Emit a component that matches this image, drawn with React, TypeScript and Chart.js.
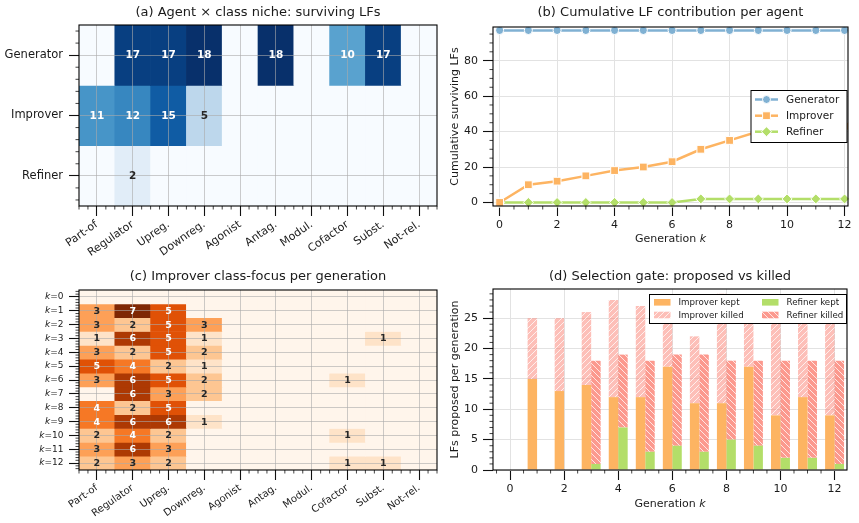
import React, { useEffect, useRef } from 'react';
import { Chart, registerables } from 'chart.js';

Chart.register(...registerables);

const FONT = 'DejaVu Sans';
const INK = '#1a1a1a';

// ---------- data ----------
const classLabels = ['Part-of', 'Regulator', 'Upreg.', 'Downreg.', 'Agonist', 'Antag.', 'Modul.', 'Cofactor', 'Subst.', 'Not-rel.'];
const agentLabels = ['Generator', 'Improver', 'Refiner'];

const nicheGenerator = [0, 17, 17, 18, 0, 18, 0, 10, 17, 0];
const nicheImprover = [11, 12, 15, 5, 0, 0, 0, 0, 0, 0];
const nicheRefiner = [0, 2, 0, 0, 0, 0, 0, 0, 0, 0];
const nicheMax = 18;

const generations = [0, 1, 2, 3, 4, 5, 6, 7, 8, 9, 10, 11, 12];
const cumGenerator = [97, 97, 97, 97, 97, 97, 97, 97, 97, 97, 97, 97, 97];
const cumImprover = [0, 10, 12, 15, 18, 20, 23, 30, 35, 40, 41, 42, 43];
const cumRefiner = [0, 0, 0, 0, 0, 0, 0, 2, 2, 2, 2, 2, 2];

const focusK0 = [0, 0, 0, 0, 0, 0, 0, 0, 0, 0];
const focusK1 = [3, 7, 5, 0, 0, 0, 0, 0, 0, 0];
const focusK2 = [3, 2, 5, 3, 0, 0, 0, 0, 0, 0];
const focusK3 = [1, 6, 5, 1, 0, 0, 0, 0, 1, 0];
const focusK4 = [3, 2, 5, 2, 0, 0, 0, 0, 0, 0];
const focusK5 = [5, 4, 2, 1, 0, 0, 0, 0, 0, 0];
const focusK6 = [3, 6, 5, 2, 0, 0, 0, 1, 0, 0];
const focusK7 = [0, 6, 3, 2, 0, 0, 0, 0, 0, 0];
const focusK8 = [4, 2, 5, 0, 0, 0, 0, 0, 0, 0];
const focusK9 = [4, 6, 6, 1, 0, 0, 0, 0, 0, 0];
const focusK10 = [2, 4, 2, 0, 0, 0, 0, 1, 0, 0];
const focusK11 = [3, 6, 3, 0, 0, 0, 0, 0, 0, 0];
const focusK12 = [2, 3, 2, 0, 0, 0, 0, 1, 1, 0];
const focusMax = 7;

const improverKept = [0, 15, 13, 14, 12, 12, 17, 11, 11, 17, 9, 12, 9];
const improverProposed = [0, 25, 25, 26, 28, 27, 27, 22, 29, 25, 26, 25, 25];
const refinerKept = [0, 0, 0, 1, 7, 3, 4, 3, 5, 4, 2, 2, 1];
const refinerProposed = [0, 0, 0, 18, 19, 18, 19, 19, 18, 18, 18, 18, 18];

const genTicks = [0, 2, 4, 6, 8, 10, 12];
const cumTicks = [0, 20, 40, 60, 80];
const gateTicks = [0, 5, 10, 15, 20, 25];

// ---------- styling helpers ----------
const BLUES = ['#f7fbff', '#deebf7', '#c6dbef', '#9ecae1', '#6baed6', '#4292c6', '#2171b5', '#08519c', '#08306b'];
const ORANGES = ['#fff5eb', '#fee6ce', '#fdd0a2', '#fdae6b', '#fd8d3c', '#f16913', '#d94801', '#a63603', '#7f2704'];
const C_GEN = '#80b1d3';
const C_IMP = '#fdb462';
const C_REF = '#b3de69';

function hexRgb(h: string): number[] {
  const n = parseInt(h.slice(1), 16);
  return [(n >> 16) & 255, (n >> 8) & 255, n & 255];
}
function cmap(stops: string[], t: number): string {
  const tt = Math.max(0, Math.min(1, t)) * (stops.length - 1);
  const i = Math.min(Math.floor(tt), stops.length - 2);
  const f = tt - i;
  const a = hexRgb(stops[i]);
  const b = hexRgb(stops[i + 1]);
  const c = a.map((v, k) => Math.round(v + (b[k] - v) * f));
  return `rgb(${c[0]},${c[1]},${c[2]})`;
}
function hatch(fill: string, dir: number, size = 6): CanvasPattern {
  const c = document.createElement('canvas');
  c.width = size;
  c.height = size;
  const g = c.getContext('2d')!;
  g.fillStyle = fill;
  g.fillRect(0, 0, size, size);
  g.strokeStyle = 'rgba(255,255,255,0.85)';
  g.lineWidth = 0.9;
  g.beginPath();
  if (dir > 0) {
    g.moveTo(0, size); g.lineTo(size, 0);
    g.moveTo(-size / 2, size / 2); g.lineTo(size / 2, -size / 2);
    g.moveTo(size / 2, size * 1.5); g.lineTo(size * 1.5, size / 2);
  } else {
    g.moveTo(0, 0); g.lineTo(size, size);
    g.moveTo(-size / 2, size / 2); g.lineTo(size / 2, size * 1.5);
    g.moveTo(size / 2, -size / 2); g.lineTo(size * 1.5, size / 2);
  }
  g.stroke();
  return g.createPattern(c, 'repeat')!;
}
function range(from: number, to: number, step: number, skip: (v: number) => boolean): number[] {
  const out: number[] = [];
  for (let v = from; v <= to + 1e-9; v += step) {
    const r = Math.round(v * 1000) / 1000;
    if (!skip(r)) out.push(r);
  }
  return out;
}
const isInt = (v: number) => Math.abs(v - Math.round(v)) < 1e-6;

type Run = { t: string; i?: boolean };
function drawRuns(ctx: CanvasRenderingContext2D, runs: Run[], x: number, y: number, size: number, align: string) {
  const fonts = runs.map(r => `${r.i ? 'italic ' : ''}${size}px "${FONT}"`);
  const widths = runs.map((r, k) => { ctx.font = fonts[k]; return ctx.measureText(r.t).width; });
  const total = widths.reduce((s, w) => s + w, 0);
  let cx = align === 'center' ? x - total / 2 : align === 'right' ? x - total : x;
  ctx.textAlign = 'left';
  ctx.textBaseline = 'middle';
  runs.forEach((r, k) => { ctx.font = fonts[k]; ctx.fillText(r.t, cx, y); cx += widths[k]; });
}

interface DecorOpts {
  title: string; titleY: number;
  minorX?: number[]; minorY?: number[];
  xTitle?: Run[]; xTitleY?: number;
  yTitle?: string; yTitleX?: number;
  draw?: (chart: any) => void;
}
function decor(o: DecorOpts) {
  return {
    id: 'decor',
    afterDraw(chart: any) {
      const ctx: CanvasRenderingContext2D = chart.ctx;
      const a = chart.chartArea;
      const xs = chart.scales.x;
      const ys = chart.scales.y;
      ctx.save();
      if (o.draw) o.draw(chart);
      ctx.strokeStyle = '#111';
      ctx.lineWidth = 0.8;
      ctx.beginPath();
      (o.minorX || []).forEach(v => { const x = xs.getPixelForValue(v); ctx.moveTo(x, a.bottom); ctx.lineTo(x, a.bottom + 3.5); });
      (o.minorY || []).forEach(v => { const y = ys.getPixelForValue(v); ctx.moveTo(a.left, y); ctx.lineTo(a.left - 3.5, y); });
      ctx.stroke();
      ctx.strokeStyle = '#000';
      ctx.lineWidth = 1.1;
      ctx.strokeRect(a.left, a.top, a.right - a.left, a.bottom - a.top);
      ctx.fillStyle = INK;
      ctx.font = `13px "${FONT}"`;
      ctx.textAlign = 'center';
      ctx.textBaseline = 'middle';
      ctx.fillText(o.title, (a.left + a.right) / 2, o.titleY);
      if (o.xTitle) drawRuns(ctx, o.xTitle, (a.left + a.right) / 2, o.xTitleY!, 11, 'center');
      if (o.yTitle) {
        ctx.save();
        ctx.translate(o.yTitleX!, (a.top + a.bottom) / 2);
        ctx.rotate(-Math.PI / 2);
        ctx.font = `11px "${FONT}"`;
        ctx.textAlign = 'center';
        ctx.textBaseline = 'middle';
        ctx.fillText(o.yTitle, 0, 0);
        ctx.restore();
      }
      ctx.restore();
    },
  };
}

const heatGrid = { offset: false, z: 1, color: 'rgba(170,170,170,0.6)', lineWidth: 1, drawTicks: true, tickLength: 10, tickColor: '#111', tickWidth: 1.1 };
const plainGrid = { color: '#e2e2e2', lineWidth: 1, drawTicks: true, tickLength: 10, tickColor: '#111', tickWidth: 1.1 };

interface HeatP { top: number; right: number; xh: number; xFont: number; yFont: number; yLabels: string[] | null; cellFont: number }
function heatConfig(rows: number[][], vmax: number, stops: string[], p: HeatP, d: DecorOpts): any {
  const cellDraw = (chart: any) => {
    const ctx: CanvasRenderingContext2D = chart.ctx;
    const xs = chart.scales.x;
    const ys = chart.scales.y;
    ctx.font = `bold ${p.cellFont}px "${FONT}"`;
    ctx.textAlign = 'center';
    ctx.textBaseline = 'middle';
    rows.forEach((row, r) => row.forEach((v, c) => {
      if (!v) return;
      ctx.fillStyle = v > vmax / 2 ? '#ffffff' : '#262626';
      ctx.fillText(String(v), xs.getPixelForValue(c), ys.getPixelForValue(r) + 0.5);
    }));
    if (d.draw) d.draw(chart);
  };
  return {
    type: 'bar',
    data: {
      labels: classLabels,
      datasets: rows.map((row, r) => ({
        data: row.map(() => [r - 0.5, r + 0.5]),
        backgroundColor: row.map(v => cmap(stops, v / vmax)),
        borderWidth: 0,
        grouped: false,
        barPercentage: 1,
        categoryPercentage: 1,
      })),
    },
    options: {
      responsive: false,
      animation: false,
      events: [],
      layout: { padding: { top: p.top, right: p.right, left: 0, bottom: 0 } },
      plugins: { legend: { display: false }, tooltip: { enabled: false } },
      scales: {
        x: {
          type: 'category', offset: true, border: { display: false }, grid: heatGrid,
          ticks: { autoSkip: false, minRotation: 35, maxRotation: 35, padding: 2, font: { size: p.xFont }, color: INK },
          afterFit: (s: any) => { s.height = p.xh; },
        },
        y: {
          type: 'linear', reverse: true, min: -0.5, max: rows.length - 0.5, border: { display: false }, grid: heatGrid,
          afterBuildTicks: (s: any) => { s.ticks = rows.map((_, i) => ({ value: i })); },
          ticks: { padding: 6, font: { size: p.yFont }, color: INK, callback: (v: any) => (p.yLabels ? p.yLabels[v] ?? '' : '') },
          afterFit: (s: any) => { s.width = 79; },
        },
      },
    },
    plugins: [decor({ ...d, draw: cellDraw })],
  };
}

function drawMarker(ctx: CanvasRenderingContext2D, style: string, x: number, y: number, color: string) {
  ctx.beginPath();
  if (style === 'circle') ctx.arc(x, y, 4, 0, Math.PI * 2);
  else if (style === 'rect') ctx.rect(x - 3.9, y - 3.9, 7.8, 7.8);
  else { ctx.moveTo(x, y - 5); ctx.lineTo(x + 5, y); ctx.lineTo(x, y + 5); ctx.lineTo(x - 5, y); ctx.closePath(); }
  ctx.fillStyle = color;
  ctx.fill();
  ctx.strokeStyle = '#fff';
  ctx.lineWidth = 1;
  ctx.stroke();
}

export default function App() {
  const refA = useRef<HTMLCanvasElement>(null);
  const refB = useRef<HTMLCanvasElement>(null);
  const refC = useRef<HTMLCanvasElement>(null);
  const refD = useRef<HTMLCanvasElement>(null);

  useEffect(() => {
    Chart.defaults.font.family = FONT;
    Chart.defaults.color = INK;

    const nicheRows = [nicheGenerator, nicheImprover, nicheRefiner];
    const focusRows = [focusK0, focusK1, focusK2, focusK3, focusK4, focusK5, focusK6, focusK7, focusK8, focusK9, focusK10, focusK11, focusK12];

    const chartA = new Chart(refA.current!, heatConfig(nicheRows, nicheMax, BLUES,
      { top: 25, right: 3, xh: 54, xFont: 11, yFont: 11.5, yLabels: agentLabels, cellFont: 10.5 },
      {
        title: '(a) Agent \u00d7 class niche: surviving LFs', titleY: 12.7,
        minorX: range(-0.5, 9.5, 0.25, isInt), minorY: range(-0.4, 2.4, 0.2, isInt),
      }));

    const chartC = new Chart(refC.current!, heatConfig(focusRows, focusMax, ORANGES,
      { top: 30, right: 3, xh: 53, xFont: 10, yFont: 9, yLabels: null, cellFont: 9.5 },
      {
        title: '(c) Improver class-focus per generation', titleY: 16.7,
        minorX: range(-0.5, 9.5, 0.25, isInt), minorY: range(-0.4, 12.4, 0.2, isInt),
        draw: (chart: any) => {
          const ctx: CanvasRenderingContext2D = chart.ctx;
          const ys = chart.scales.y;
          ctx.fillStyle = INK;
          focusRows.forEach((_, r) => {
            drawRuns(ctx, [{ t: 'k', i: true }, { t: '=' + generations[r] }], 63.5, ys.getPixelForValue(r), 9, 'right');
          });
        },
      }));

    const lineSeries = [
      { label: 'Generator', vals: cumGenerator, color: C_GEN, style: 'circle', r: 4 },
      { label: 'Improver', vals: cumImprover, color: C_IMP, style: 'rect', r: 5.5 },
      { label: 'Refiner', vals: cumRefiner, color: C_REF, style: 'rectRot', r: 5 },
    ];
    const chartB = new Chart(refB.current!, {
      type: 'line',
      data: {
        datasets: lineSeries.map(s => ({
          label: s.label,
          data: generations.map((g, i) => ({ x: g, y: s.vals[i] })),
          borderColor: s.color,
          backgroundColor: s.color,
          borderWidth: 2.5,
          pointStyle: s.style,
          pointRadius: s.r,
          pointBackgroundColor: s.color,
          pointBorderColor: '#ffffff',
          pointBorderWidth: 1,
          tension: 0,
          clip: false,
        })),
      },
      options: {
        responsive: false,
        animation: false,
        events: [],
        layout: { padding: { top: 27, right: 11, left: 0, bottom: 0 } },
        plugins: { legend: { display: false }, tooltip: { enabled: false } },
        scales: {
          x: {
            type: 'linear', min: -0.23, max: 12.12, border: { display: false }, grid: plainGrid,
            afterBuildTicks: (s: any) => { s.ticks = genTicks.map(v => ({ value: v })); },
            ticks: { padding: 3, font: { size: 11 }, color: INK, maxRotation: 0 },
            afterFit: (s: any) => { s.height = 54; },
          },
          y: {
            type: 'linear', min: -2, max: 99, border: { display: false }, grid: plainGrid,
            afterBuildTicks: (s: any) => { s.ticks = cumTicks.map(v => ({ value: v })); },
            ticks: { padding: 5, font: { size: 11 }, color: INK },
            afterFit: (s: any) => { s.width = 53; },
          },
        },
      } as any,
      plugins: [decor({
        title: '(b) Cumulative LF contribution per agent', titleY: 12.7,
        minorX: range(0, 12, 0.5, v => Math.abs(v / 2 - Math.round(v / 2)) < 1e-6),
        minorY: range(0, 95, 5, v => v % 20 === 0),
        xTitle: [{ t: 'Generation ' }, { t: 'k', i: true }], xTitleY: 239.5,
        yTitle: 'Cumulative surviving LFs', yTitleX: 15,
        draw: (chart: any) => {
          const ctx: CanvasRenderingContext2D = chart.ctx;
          ctx.fillStyle = '#ffffff';
          ctx.fillRect(311, 90.5, 96, 52);
          ctx.strokeStyle = '#000';
          ctx.lineWidth = 1;
          ctx.strokeRect(311, 90.5, 96, 52);
          const rowsY = [99.5, 115.7, 131.7];
          lineSeries.forEach((s, k) => {
            const y = rowsY[k];
            ctx.strokeStyle = s.color;
            ctx.lineWidth = 2.5;
            ctx.beginPath();
            ctx.moveTo(315, y);
            ctx.lineTo(338, y);
            ctx.stroke();
            drawMarker(ctx, s.style, 326.5, y, s.color);
            ctx.fillStyle = INK;
            ctx.font = `10.5px "${FONT}"`;
            ctx.textAlign = 'left';
            ctx.textBaseline = 'middle';
            ctx.fillText(s.label, 346, y + 0.5);
          });
        },
      })],
    } as any);

    const killImp = hatch('rgba(251,128,114,0.5)', 1);
    const killRef = hatch('rgba(251,128,114,0.8)', -1);
    const pts = (vals: number[]) => generations.map((g, i) => ({ x: g, y: vals[i] > 0 ? vals[i] : null }));
    const improverKilled = improverProposed.map((p, i) => p - improverKept[i]);
    const refinerKilled = refinerProposed.map((p, i) => p - refinerKept[i]);
    const gateSeries = [
      { label: 'Improver kept', vals: improverKept, fill: C_IMP as any, stack: 'imp' },
      { label: 'Improver killed', vals: improverKilled, fill: killImp as any, stack: 'imp' },
      { label: 'Refiner kept', vals: refinerKept, fill: C_REF as any, stack: 'ref' },
      { label: 'Refiner killed', vals: refinerKilled, fill: killRef as any, stack: 'ref' },
    ];
    const chartD = new Chart(refD.current!, {
      type: 'bar',
      data: {
        datasets: gateSeries.map(s => ({
          label: s.label,
          data: pts(s.vals),
          backgroundColor: s.fill,
          borderWidth: 0,
          stack: s.stack,
          barPercentage: 1,
          categoryPercentage: 0.7,
        })),
      },
      options: {
        responsive: false,
        animation: false,
        events: [],
        layout: { padding: { top: 29, right: 12, left: 0, bottom: 0 } },
        plugins: { legend: { display: false }, tooltip: { enabled: false } },
        scales: {
          x: {
            type: 'linear', min: -0.63, max: 12.46, offset: false, border: { display: false },
            grid: { ...plainGrid, offset: false },
            afterBuildTicks: (s: any) => { s.ticks = genTicks.map(v => ({ value: v })); },
            ticks: { padding: 3, font: { size: 11 }, color: INK, maxRotation: 0 },
            afterFit: (s: any) => { s.height = 53; },
          },
          y: {
            type: 'linear', stacked: true, min: 0, max: 29.8, border: { display: false }, grid: plainGrid,
            afterBuildTicks: (s: any) => { s.ticks = gateTicks.map(v => ({ value: v })); },
            ticks: { padding: 5, font: { size: 11 }, color: INK },
            afterFit: (s: any) => { s.width = 53; },
          },
        },
      } as any,
      plugins: [decor({
        title: '(d) Selection gate: proposed vs killed', titleY: 16.7,
        minorX: range(-0.5, 12, 0.5, v => Math.abs(v / 2 - Math.round(v / 2)) < 1e-6),
        minorY: range(1, 29, 1, v => v % 5 === 0),
        xTitle: [{ t: 'Generation ' }, { t: 'k', i: true }], xTitleY: 244.5,
        yTitle: 'LFs proposed per generation', yTitleX: 15,
        draw: (chart: any) => {
          const ctx: CanvasRenderingContext2D = chart.ctx;
          ctx.fillStyle = '#ffffff';
          ctx.fillRect(209.5, 34.5, 197, 29);
          ctx.strokeStyle = '#000';
          ctx.lineWidth = 1;
          ctx.strokeRect(209.5, 34.5, 197, 29);
          const pos = [[214, 42.3], [214, 55], [322, 42.3], [322, 55]];
          gateSeries.forEach((s, k) => {
            const [x, y] = pos[k];
            ctx.fillStyle = s.fill;
            ctx.fillRect(x, y - 3.3, 16.5, 6.6);
            ctx.fillStyle = INK;
            ctx.font = `8.7px "${FONT}"`;
            ctx.textAlign = 'left';
            ctx.textBaseline = 'middle';
            ctx.fillText(s.label, x + 24.5, y + 0.5);
          });
        },
      })],
    } as any);

    return () => {
      chartA.destroy();
      chartB.destroy();
      chartC.destroy();
      chartD.destroy();
    };
  }, []);

  const cs = (l: number, t: number, w: number, h: number): React.CSSProperties => ({
    position: 'absolute', left: l, top: t, width: w, height: h, display: 'block',
  });
  return (
    <div style={{ position: 'absolute', left: 0, top: 0, width: 859, height: 523, background: '#ffffff', overflow: 'hidden' }}>
      <canvas ref={refA} width={440} height={260} style={cs(0, 0, 440, 260)} />
      <canvas ref={refB} width={419} height={260} style={cs(440, 0, 419, 260)} />
      <canvas ref={refC} width={440} height={263} style={cs(0, 260, 440, 263)} />
      <canvas ref={refD} width={419} height={263} style={cs(440, 260, 419, 263)} />
    </div>
  );
}
